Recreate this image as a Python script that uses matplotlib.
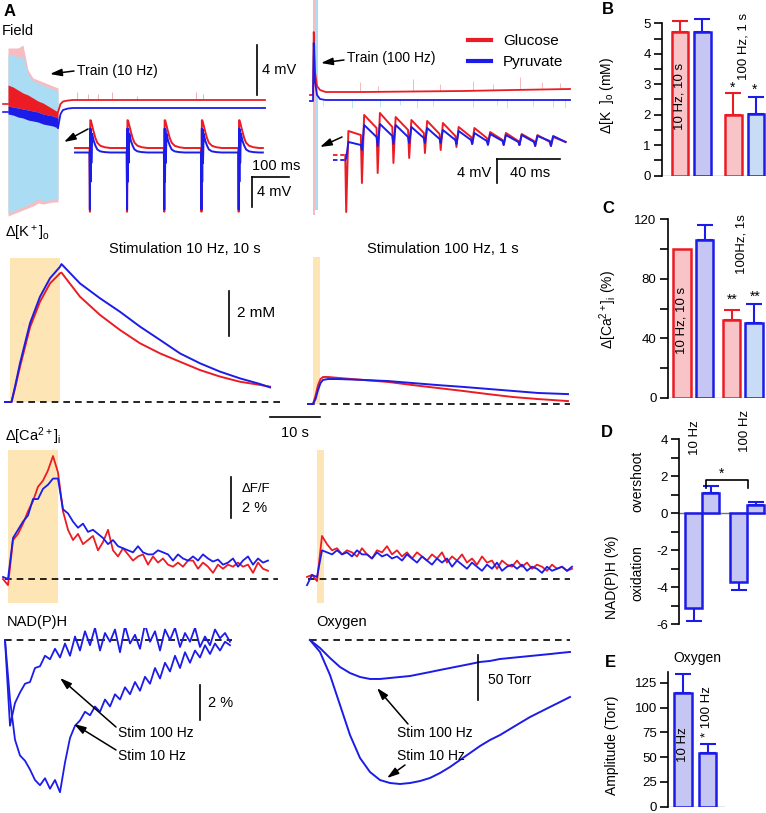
import numpy as np
import matplotlib.pyplot as plt

plt.rcParams['font.family'] = ['Liberation Sans', 'DejaVu Sans']
plt.rcParams['mathtext.fontset'] = 'custom'
plt.rcParams['mathtext.rm'] = 'Liberation Sans'
plt.rcParams['mathtext.it'] = 'Liberation Sans:italic'
plt.rcParams['axes.unicode_minus'] = False

W, H = 766, 813

RED = '#ec1c24'
BLUE = '#1c1ce8'
PINK = '#f9c4c7'
LAV = '#c6c6f4'
PALE = '#c8dcf6'
SHADE = '#fde5b6'
ENV_PINK = '#f7bcc0'
ENV_BLUE = '#aadcf4'
TICK_PINK = '#f5b0b0'
TICK_CYAN = '#b0e4f4'

# ===============================
# DATA - A, field potentials (s, mV)
# ===============================
train10_t = [0, 1, 2, 3, 4, 5, 6, 7, 8, 9, 10]
train10_pink_top = [4.48, 4.48, 4.48, 4.72, 2.72, 2.08, 1.92, 1.76, 1.6, 1.44, 1.28]
train10_pink_bot = [-8.96, -8.8, -8.64, -8.48, -8.32, -8.16, -7.92, -8.0, -7.92, -7.84, -7.84]
train10_cyan_top = [4.0, 3.92, 3.76, 3.84, 2.4, 1.84, 1.68, 1.52, 1.36, 1.2, 1.04]
train10_cyan_bot = [-8.72, -8.56, -8.4, -8.24, -8.08, -7.84, -7.6, -7.76, -7.68, -7.68, -7.6]
train10_red_top = [1.52, 1.36, 1.12, 0.88, 0.72, 0.48, 0.24, 0.08, -0.16, -0.4, -0.64]
train10_mid = [-0.16, -0.24, -0.32, -0.4, -0.48, -0.56, -0.64, -0.8, -0.88, -0.96, -1.12]
train10_blue_bot = [-0.8, -0.88, -1.04, -1.12, -1.28, -1.36, -1.44, -1.6, -1.68, -1.76, -1.92]

field10_pre_t = [-1, 0]
field10_pre_red = [0.0, 0.0]
field10_pre_blue = [-0.64, -0.64]
field10_after_t = [10, 10.5, 11, 12, 13, 15, 20, 51.4]
field10_after_red = [-0.64, 0.0, 0.2, 0.28, 0.32, 0.32, 0.32, 0.32]
field10_after_blue = [-1.92, -0.8, -0.48, -0.36, -0.32, -0.32, -0.32, -0.32]
field10_tick_t = [13.8, 16, 18, 20.8, 25.8, 37.6, 39]
field10_tick_h = [0.6, 0.5, 0.5, 0.6, 0.3, 0.6, 0.5]

field100_t = [-0.6, 0, 0.15, 0.4, 0.8, 1.4, 2.5, 10, 20, 30, 40, 51.4]
field100_red = [0, 0, 5.04, 1.84, 0.72, 0.4, 0.24, 0.24, 0.28, 0.32, 0.4, 0.48]
field100_blue = [-0.48, -0.48, 4.16, 1.04, 0, -0.32, -0.4, -0.4, -0.4, -0.4, -0.4, -0.4]
field100_red_tick_t = [9.4, 13, 20, 25.4, 32, 36, 41.4, 45.8, 49.4]
field100_red_tick_h = [0.8, 0.5, 1.0, 0.6, 0.8, 0.5, 1.0, 0.6, 0.5]
field100_cyan_tick_t = [2, 7.8, 13.4, 17.4, 20.8, 24, 32, 36.8, 38.8, 44, 48, 50.4]
field100_cyan_tick_h = [0.5, 0.65, 0.55, 0.4, 0.65, 0.5, 0.55, 0.4, 0.65, 0.5, 0.55, 0.65]

# inset, single responses in the 10 Hz train (ms, mV)
inset10_spikes = [40, 140, 240, 340, 440]
spike_dt = [-1, 0, 1, 2, 3, 4, 6, 10, 15, 20, 28, 40, 55]
spike_red = [0, -8.5, 3.7, 3.7, 3.6, 3.4, 3.0, 2.2, 1.3, 0.7, 0.3, 0.1, 0]
spike_blue = [-0.6, -8.2, 2.6, -4.5, 2.5, -2.0, 1.9, 1.0, 0.3, -0.2, -0.45, -0.55, -0.6]

# inset, 100 Hz train, per pulse trough / peak / end (ms, mV)
inset100_pulses = [6.5, 16.5, 26.5, 36.5, 46.5, 56.5, 66.5, 76.5, 86.5, 96.5, 106.5, 116.5, 126.5, 136.5]
red100_trough = [-9.5, -4.67, -3.0, -1.33, -0.5, 0.33, 0.83, 1.33, 1.83, 1.83, 1.67, 1.67, 1.5, 1.5]
red100_peak = [4.0, 6.67, 7.0, 6.33, 5.83, 5.67, 5.33, 4.67, 4.5, 3.83, 3.67, 3.5, 3.33, 3.0]
red100_end = [3.33, 4.5, 4.67, 4.17, 3.67, 3.5, 3.17, 3.0, 2.83, 2.5, 2.33, 2.33, 2.17, 2.17]
blue100_trough = [-0.5, 0.83, 1.5, 1.83, 2.0, 2.0, 2.0, 1.83, 1.83, 1.67, 1.67, 1.67, 1.5, 1.5]
blue100_peak = [2.17, 5.0, 5.17, 5.0, 4.67, 4.5, 4.17, 4.0, 3.67, 3.5, 3.33, 3.33, 3.17, 3.17]
blue100_end = [1.67, 3.0, 3.17, 3.0, 2.83, 2.67, 2.5, 2.5, 2.33, 2.33, 2.17, 2.17, 2.33, 2.17]
blue100_pre = -0.83

# ===============================
# DATA - extracellular K+ (s, mM)
# ===============================
k10_t = [-1, 0.3, 1, 2, 4, 6, 8, 10, 10.3, 14, 18, 22, 26, 30, 34, 38, 42, 46, 50, 52]
k10_red = [0, 0, 0.61, 1.57, 3.32, 4.46, 5.27, 5.72, 5.75, 4.68, 3.87, 3.2, 2.61, 2.16, 1.79,
           1.42, 1.13, 0.9, 0.76, 0.68]
k10_blue = [0, 0, 0.68, 1.72, 3.5, 4.68, 5.5, 6.01, 6.13, 5.27, 4.61, 4.01, 3.35, 2.76, 2.16,
            1.72, 1.35, 1.05, 0.8, 0.65]
k100_t = [-1, 0, 0.5, 1, 1.5, 2, 3, 5, 10, 15, 20, 25, 30, 35, 40, 45, 51]
k100_red = [0, 0, 0.36, 0.84, 1.11, 1.2, 1.2, 1.16, 1.07, 0.98, 0.84, 0.71, 0.58, 0.44, 0.31,
            0.22, 0.13]
k100_blue = [0, 0, 0.22, 0.62, 0.93, 1.07, 1.11, 1.11, 1.07, 1.02, 0.93, 0.84, 0.76, 0.67,
             0.58, 0.49, 0.44]

# ===============================
# DATA - Ca2+ (dF/F %, 1 s samples)
# ===============================
ca10_t0 = -1
ca10_red = [0.0, -0.3, 1.9, 2.2, 2.7, 3.3, 3.8, 4.5, 4.8, 5.3, 6.0, 5.2, 3.3, 2.4, 1.9, 2.2, 1.7,
            1.9, 2.1, 1.4, 1.8, 2.4, 1.4, 1.1, 1.5, 1.2, 0.9, 1.1, 1.2, 0.7, 1.1, 0.8, 1.0, 0.7,
            0.6, 0.8, 0.6, 0.9, 0.9, 0.5, 0.8, 0.6, 0.3, 0.7, 0.5, 0.7, 0.6, 0.8, 0.6, 0.7, 0.3,
            0.8, 0.5, 0.4]
ca10_blue = [0.1, 0.0, 2.0, 2.4, 2.8, 3.1, 3.9, 3.9, 4.4, 4.6, 4.9, 4.9, 3.4, 3.2, 2.8, 2.5, 2.7,
             2.3, 2.4, 2.2, 2.0, 1.7, 1.9, 1.6, 1.5, 1.4, 1.3, 1.6, 1.3, 1.2, 1.2, 1.4, 1.3, 1.2,
             0.9, 1.2, 1.0, 0.9, 1.1, 0.9, 1.2, 1.0, 0.85, 0.95, 0.7, 0.8, 1.0, 0.6, 0.9, 1.1,
             0.7, 1.0, 0.8, 0.9]
ca100_t0 = -2
ca100_red = [0.1, 0.2, -0.1, 2.1, 1.7, 1.4, 1.5, 1.2, 1.4, 1.3, 1.1, 1.5, 1.2, 1.0, 1.4, 1.3, 1.6,
             1.2, 1.4, 1.1, 1.3, 1.0, 1.3, 1.1, 0.9, 1.2, 1.0, 1.3, 0.8, 1.1, 0.9, 1.2, 0.8, 1.0,
             0.7, 1.1, 0.8, 0.9, 0.5, 0.9, 0.7, 0.6, 0.9, 0.6, 0.8, 0.5, 0.7, 0.6, 0.4, 0.7, 0.5,
             0.6, 0.4, 0.5]
ca100_blue = [-0.3, 0.2, 0.1, 1.4, 1.3, 1.2, 1.4, 1.2, 1.3, 1.1, 1.4, 1.2, 1.2, 1.0, 1.3, 1.1, 1.2,
              1.0, 1.1, 0.9, 1.2, 1.0, 0.8, 1.1, 0.9, 0.7, 1.0, 0.8, 1.0, 0.6, 0.9, 0.7, 0.5, 0.8,
              0.6, 0.4, 0.7, 0.5, 0.8, 0.4, 0.6, 0.7, 0.5, 0.7, 0.4, 0.6, 0.5, 0.3, 0.6, 0.4, 0.5,
              0.6, 0.4, 0.6]

# ===============================
# DATA - NAD(P)H (%, 1 s samples) and oxygen (Torr, 2 s samples)
# ===============================
nadh_10hz = [0, -3.4, -5.7, -6.6, -6.9, -7.4, -8.0, -8.3, -7.9, -8.5, -8.0, -8.7, -7.0, -5.6,
             -4.9, -4.6, -4.1, -4.3, -3.8, -4.1, -3.4, -3.8, -3.1, -3.4, -2.7, -3.1, -2.4, -2.9,
             -2.1, -2.5, -1.6, -2.2, -1.3, -1.8, -0.9, -1.6, -0.7, -1.3, -0.6, -1.0, -0.3, -0.8,
             -0.2, -0.6, -0.1, -0.3]
nadh_100hz = [0, -4.9, -3.6, -3.0, -2.5, -2.4, -1.6, -1.5, -0.9, -1.1, -0.5, -1.0, -0.2, -0.9,
              0.2, -0.6, 0.5, -0.3, 0.7, -0.6, 0.4, -0.1, 0.6, -0.7, 0.8, -0.2, 0.3, -0.5, 0.9,
              -0.1, 0.5, -0.6, 0.6, 0.0, 0.7, -0.4, 0.4, -0.1, 0.7, -0.4, 0.2, -0.3, 0.6, 0.1,
              0.4, -0.1]
oxy_100hz = [0, -8.9, -20, -30, -36.7, -41.1, -43.3, -43.3, -42.2, -41.1, -40, -37.8, -35.6,
             -33.3, -31.1, -28.9, -26.7, -24.4, -23.3, -21.1, -20, -18.9, -17.8, -16.7, -15.6,
             -14.4, -13.3]
oxy_10hz = [0, -13.3, -38.9, -72.2, -105.6, -131.1, -146.7, -155.6, -158.9, -160, -158.9,
            -156.7, -153.3, -147.8, -141.1, -133.3, -125.6, -117.8, -111.1, -105.6, -98.9,
            -92.2, -85.6, -80, -74.4, -68.9, -63.3]

# ===============================
# DATA - bar panels B-E (mean, SEM)
# ===============================
k_mean = [4.72, 4.72, 1.99, 2.03]
k_sem = [0.36, 0.42, 0.71, 0.56]
ca_mean = [100, 106, 52, 50.5]
ca_sem = [0, 10, 7, 12.5]
nadh_mean = [-5.1, 1.1, -3.7, 0.45]
nadh_sem = [0.7, 0.35, 0.45, 0.15]
oxy_mean = [115, 54]
oxy_sem = [19, 9]

# ===============================
# FIGURE
# ===============================
fig = plt.figure(figsize=(W / 100, H / 100), dpi=100)


def px_axes(box, x_org, x_scale, y_org, y_scale):
    # trace axes placed in pixel box, data mapped through origin + px per unit
    x0, y0, x1, y1 = box
    ax = fig.add_axes([x0 / W, 1 - y1 / H, (x1 - x0) / W, (y1 - y0) / H])
    ax.set_xlim((x0 - x_org) / x_scale, (x1 - x_org) / x_scale)
    ax.set_ylim((y_org - y1) / y_scale, (y_org - y0) / y_scale)
    ax.axis('off')
    return ax


def bar_axes(x0, x1, y_top, y_bot, ylim, xlim):
    ax = fig.add_axes([x0 / W, 1 - y_bot / H, (x1 - x0) / W, (y_bot - y_top) / H])
    ax.set_ylim(*ylim)
    ax.set_xlim(*xlim)
    for s in ['top', 'right', 'bottom']:
        ax.spines[s].set_visible(False)
    ax.spines['left'].set_linewidth(1.2)
    ax.set_xticks([])
    ax.tick_params(axis='y', which='both', direction='out', length=6, width=1.2,
                   labelsize=9.5, pad=2)
    ax.patch.set_alpha(0)
    return ax


def draw_bars(ax, pos, vals, errs, edges, fills, width):
    for p, v, e, ec, fc in zip(pos, vals, errs, edges, fills):
        if e > 0:
            yerr = [[0], [e]] if v >= 0 else [[e], [0]]
            eb = ax.errorbar(p, v, yerr=yerr, fmt='none', ecolor=ec, elinewidth=1.5,
                             capsize=5.5, capthick=1.5, zorder=2)
            for a in list(eb[1]) + list(eb[2]):
                a.set_clip_on(False)
        ax.bar(p, v, width, color=fc, edgecolor=ec, linewidth=1.8, zorder=3)


DASH = (0, (4, 3))

# --- A: field 10 Hz ---
ax = px_axes((0, 20, 300, 230), 8, 5, 104, 12.5)
ax.fill_between(train10_t, train10_pink_bot, train10_pink_top, color=ENV_PINK, lw=0)
ax.fill_between(train10_t, train10_cyan_bot, train10_cyan_top, color=ENV_BLUE, lw=0)
ax.fill_between(train10_t, train10_mid, train10_red_top, color=RED, lw=0)
ax.fill_between(train10_t, train10_blue_bot, train10_mid, color=BLUE, lw=0)
ax.plot(field10_pre_t, field10_pre_red, color=RED, lw=1.2)
ax.plot(field10_pre_t, field10_pre_blue, color=BLUE, lw=1.2)
base = np.interp(field10_tick_t, field10_after_t, field10_after_red)
ax.vlines(field10_tick_t, base, base + np.array(field10_tick_h), color=TICK_PINK, lw=0.7)
ax.plot(field10_after_t, field10_after_red, color=RED, lw=1.3)
ax.plot(field10_after_t, field10_after_blue, color=BLUE, lw=1.3)
ax.plot([49.8, 49.8], [0.72, 4.72], color='k', lw=1.2, clip_on=False)

# --- A: inset 10 Hz ---
ax = px_axes((60, 105, 300, 222), 75, 0.372, 148, 7.5)
t_in = [0]
r_in = [0]
b_in = [spike_blue[0]]
for s in inset10_spikes:
    t_in += [s + d for d in spike_dt]
    r_in += spike_red
    b_in += spike_blue
t_in.append(505)
r_in.append(0)
b_in.append(spike_blue[-1])
ax.plot(t_in, r_in, color=RED, lw=1.4)
ax.plot(t_in, b_in, color=BLUE, lw=1.4)
ax.plot([475.8, 575.8], [-3.87, -3.87], color='k', lw=1.2, clip_on=False)
ax.plot([475.8, 475.8], [-3.87, -7.87], color='k', lw=1.2, clip_on=False)

# --- A: field 100 Hz ---
ax = px_axes((300, 0, 600, 230), 313, 5, 95, 12.5)
ax.fill_between([0, 0.4], -9.6, 7.6, color=ENV_PINK, lw=0)
ax.fill_between([0.4, 1.0], -9.2, 7.6, color=ENV_BLUE, lw=0)
rb = np.interp(field100_red_tick_t, field100_t, field100_red)
ax.vlines(field100_red_tick_t, rb, rb + np.array(field100_red_tick_h), color=TICK_PINK, lw=0.6)
bb = np.interp(field100_cyan_tick_t, field100_t, field100_blue)
ax.vlines(field100_cyan_tick_t, bb - np.array(field100_cyan_tick_h), bb, color=TICK_CYAN, lw=0.6)
l1, = ax.plot(field100_t, field100_red, color=RED, lw=1.3, label='Glucose')
l2, = ax.plot(field100_t, field100_blue, color=BLUE, lw=1.3, label='Pyruvate')
leg = ax.legend(handles=[l1, l2], loc='upper left', bbox_to_anchor=(468 / W, 1 - 34 / H),
                bbox_transform=fig.transFigure, frameon=False, fontsize=11,
                handlelength=1.5, handletextpad=0.8, labelspacing=0.45,
                borderaxespad=0, borderpad=0)
for h in leg.legend_handles:
    h.set_linewidth(3)

# --- A: inset 100 Hz ---
ax = px_axes((320, 95, 600, 225), 335, 1.575, 155, 6)
ax.plot([-1.3, 5.7], [0, 0], color=RED, lw=1.3, ls=(0, (2.5, 1.5)))
ax.plot([-1.3, 5.7], [blue100_pre, blue100_pre], color=BLUE, lw=1.3, ls=(0, (2.5, 1.5)))
tr, rr, br = [inset100_pulses[0]], [0.0], [blue100_pre]
for p, a, b, c, d, e, f in zip(inset100_pulses, red100_trough, red100_peak, red100_end,
                               blue100_trough, blue100_peak, blue100_end):
    tr += [p + 0.6, p + 2.0, p + 9.9]
    rr += [a, b, c]
    br += [d, e, f]
ax.plot(tr, rr, color=RED, lw=1.4)
ax.plot(tr, br, color=BLUE, lw=1.4)
ax.plot([102.9, 102.9], [-0.67, -4.67], color='k', lw=1.2)
ax.plot([102.9, 142.9], [-0.67, -0.67], color='k', lw=1.2)

# --- K+ traces ---
ax = px_axes((0, 250, 300, 425), 10, 5, 402, 22.5)
ax.fill_between([0, 10], 0, 6.4, color=SHADE, lw=0)
ax.plot([-1, 54], [0, 0], color='k', lw=1.2, ls=DASH)
ax.plot(k10_t, k10_red, color=RED, lw=1.4)
ax.plot(k10_t, k10_blue, color=BLUE, lw=1.4)
ax.plot([43.8, 43.8], [2.93, 4.93], color='k', lw=1.2)
ax.plot([52, 62], [-0.67, -0.67], color='k', lw=1.2, clip_on=False)

ax = px_axes((300, 250, 600, 425), 313, 5, 404, 22.5)
ax.fill_between([0, 1.4], 0, 6.53, color=SHADE, lw=0)
ax.plot([-1, 51.4], [0, 0], color='k', lw=1.2, ls=DASH)
ax.plot(k100_t, k100_red, color=RED, lw=1.4)
ax.plot(k100_t, k100_blue, color=BLUE, lw=1.4)

# --- Ca2+ traces ---
ax = px_axes((0, 445, 300, 612), 8, 5, 579, 20.5)
ax.fill_between([0, 10], -1.17, 6.29, color=SHADE, lw=0)
ax.plot([-0.6, 54], [0, 0], color='k', lw=1.2, ls=DASH)
t_ca = ca10_t0 + np.arange(len(ca10_red))
ax.plot(t_ca, ca10_red, color=RED, lw=1.3)
ax.plot(t_ca, ca10_blue, color=BLUE, lw=1.3)
ax.plot([44.6, 44.6], [2.98, 4.98], color='k', lw=1.2)

ax = px_axes((300, 445, 600, 612), 317, 5, 579, 20.5)
ax.fill_between([0, 1.4], -1.17, 6.29, color=SHADE, lw=0)
ax.plot([-1.8, 50.6], [0, 0], color='k', lw=1.2, ls=DASH)
t_ca = ca100_t0 + np.arange(len(ca100_red))
ax.plot(t_ca, ca100_red, color=RED, lw=1.3)
ax.plot(t_ca, ca100_blue, color=BLUE, lw=1.3)

# --- NAD(P)H and oxygen ---
ax = px_axes((0, 628, 300, 813), 5, 5, 640, 17.5)
ax.plot([0, 45.4], [0, 0], color='k', lw=1.2, ls=DASH)
t_n = np.arange(len(nadh_10hz))
ax.plot(t_n, nadh_10hz, color=BLUE, lw=1.3)
ax.plot(t_n, nadh_100hz, color=BLUE, lw=1.3)
ax.plot([39, 39], [-4.57, -2.57], color='k', lw=1.2)

ax = px_axes((300, 628, 600, 813), 310, 5, 640, 0.9)
ax.plot([0, 52], [0, 0], color='k', lw=1.2, ls=DASH)
t_o = 2 * np.arange(len(oxy_10hz))
ax.plot(t_o, oxy_100hz, color=BLUE, lw=1.4)
ax.plot(t_o, oxy_10hz, color=BLUE, lw=1.4)
ax.plot([33.6, 33.6], [-66.7, -16.7], color='k', lw=1.2)

# --- B ---
ax = bar_axes(662, 766, 23.3, 175.7, (0, 5), (-0.81, 3.86))
ax.set_yticks(range(0, 6))
ax.set_yticks(np.arange(0.5, 5, 1), minor=True)
ax.axhline(0, color='0.5', lw=1, zorder=1)
draw_bars(ax, [0, 1, 2.4, 3.4], k_mean, k_sem, [RED, BLUE, RED, BLUE], [PINK, LAV, PINK, PALE], 0.74)

# --- C ---
ax = bar_axes(667.7, 766, 219.3, 397.8, (0, 120), (-0.64, 3.73))
ax.set_yticks([0, 40, 80, 120])
ax.set_yticks([20, 60, 100], minor=True)
ax.axhline(0, color='0.5', lw=1, zorder=1)
draw_bars(ax, [0, 1, 2.2, 3.2], ca_mean, ca_sem, [RED, BLUE, RED, BLUE], [PINK, LAV, PINK, PALE], 0.78)

# --- D ---
ax = bar_axes(679, 766, 439.3, 624.3, (-6, 4), (-0.88, 4.24))
ax.set_yticks(range(-6, 5, 2))
ax.set_yticks(range(-5, 5, 2), minor=True)
ax.axhline(0, color='0.45', lw=1, zorder=1)
pos_d = [0, 1, 2.65, 3.65]
draw_bars(ax, pos_d, nadh_mean, nadh_sem, [BLUE] * 4, [LAV] * 4, 1.0)
bx = [pos_d[1] - 0.3, pos_d[1] - 0.3, pos_d[3] - 0.45, pos_d[3] - 0.45]
ax.plot(bx, [1.37, 1.8, 1.8, 1.37], color='k', lw=1.2, zorder=4)

# --- E ---
ax = bar_axes(668.3, 725, 671.8, 806.7, (0, 136), (-0.6, 1.714))
ax.set_yticks(range(0, 126, 25))
ax.axhline(0, color='0.5', lw=1, zorder=1)
draw_bars(ax, [0, 1], oxy_mean, oxy_sem, [BLUE, BLUE], [LAV, LAV], 0.73)

# ===============================
# TEXT OVERLAY (pixel coordinates)
# ===============================
ov = fig.add_axes([0, 0, 1, 1])
ov.set_xlim(0, W)
ov.set_ylim(H, 0)
ov.axis('off')


def label(x, y, s, size=10.5, **kw):
    ov.text(x, y, s, fontsize=size, va=kw.pop('va', 'center'), ha=kw.pop('ha', 'left'), **kw)


def arrow(tail, head):
    ov.annotate('', xy=head, xytext=tail,
                arrowprops=dict(arrowstyle='-|>,head_length=0.7,head_width=0.22',
                                color='k', lw=1.1, shrinkA=0, shrinkB=0))


label(4, 12, 'A', 12, weight='bold')
label(2, 31, 'Field')
label(77, 71, 'Train (10 Hz)', 10)
arrow((74, 71), (50, 74))
label(262, 70, '4 mV')
arrow((88, 129), (64, 142))
label(252, 166, '100 ms')
label(257, 192, '4 mV')
label(347, 58, 'Train (100 Hz)', 10)
arrow((344, 60), (321, 63))
arrow((342, 137), (320, 147))
label(491, 173, '4 mV', ha='right')
label(510, 173, '40 ms')

label(5, 233, 'Δ[K$^+$]$_\\mathrm{o}$')
label(185, 249, 'Stimulation 10 Hz, 10 s', ha='center')
label(367, 249, 'Stimulation 100 Hz, 1 s')
label(237, 313, '2 mM', 11)
label(295, 433, '10 s', ha='center')
label(5, 436, 'Δ[Ca$^{2+}$]$_\\mathrm{i}$')
label(242, 489, 'ΔF/F', 9.5)
label(242, 508, '2 %')

label(7, 622, 'NAD(P)H')
label(316, 622, 'Oxygen')
label(208, 703, '2 %')
label(118, 733, 'Stim 100 Hz', 10)
label(118, 756, 'Stim 10 Hz', 10)
arrow((116, 727), (60, 678))
arrow((116, 750), (74, 724))
label(488, 680, '50 Torr', 10)
label(397, 733, 'Stim 100 Hz', 10)
label(397, 756, 'Stim 10 Hz', 10)
arrow((408, 724), (377, 688))
arrow((405, 765), (387, 778))

# bar panel labels
label(608, 10, 'B', 12, weight='bold', ha='center')
label(608, 208, 'C', 12, weight='bold', ha='center')
label(607, 432, 'D', 12, weight='bold', ha='center')
label(610, 662, 'E', 12, weight='bold', ha='center')
label(607, 95, 'Δ[K  ]$_\\mathrm{o}$ (mM)', 10, rotation=90, ha='center')
label(608, 310, 'Δ[Ca$^{2+}$]$_\\mathrm{i}$ (%)', 10, rotation=90, ha='center')
label(612, 577, 'NAD(P)H (%)', 10, rotation=90, ha='center')
label(637, 481, 'overshoot', 10, rotation=90, ha='center')
label(637, 573, 'oxidation', 10, rotation=90, ha='center')
label(612, 745, 'Amplitude (Torr)', 10, rotation=90, ha='center')

label(680, 96, '10 Hz, 10 s', 9.5, rotation=90, ha='center')
label(744, 46, '100 Hz, 1 s', 9.5, rotation=90, ha='center')
label(733, 88, '*', 10, ha='center')
label(755, 90, '*', 10, ha='center')
label(682, 320, '10 Hz, 10 s', 9.5, rotation=90, ha='center')
label(741, 244, '100Hz, 1s', 9.5, rotation=90, ha='center')
label(732, 300, '**', 10, ha='center')
label(755, 297, '**', 10, ha='center')
label(695, 438, '10 Hz', 9.5, rotation=90, ha='center')
label(745, 431, '100 Hz', 9.5, rotation=90, ha='center')
label(722, 474, '*', 10, ha='center')
label(697, 658, 'Oxygen', 10, ha='center')
label(683, 745, '10 Hz', 9.5, rotation=90, ha='center')
label(707, 712, '* 100 Hz', 9.5, rotation=90, ha='center')

fig.savefig('out.png', dpi=100)
